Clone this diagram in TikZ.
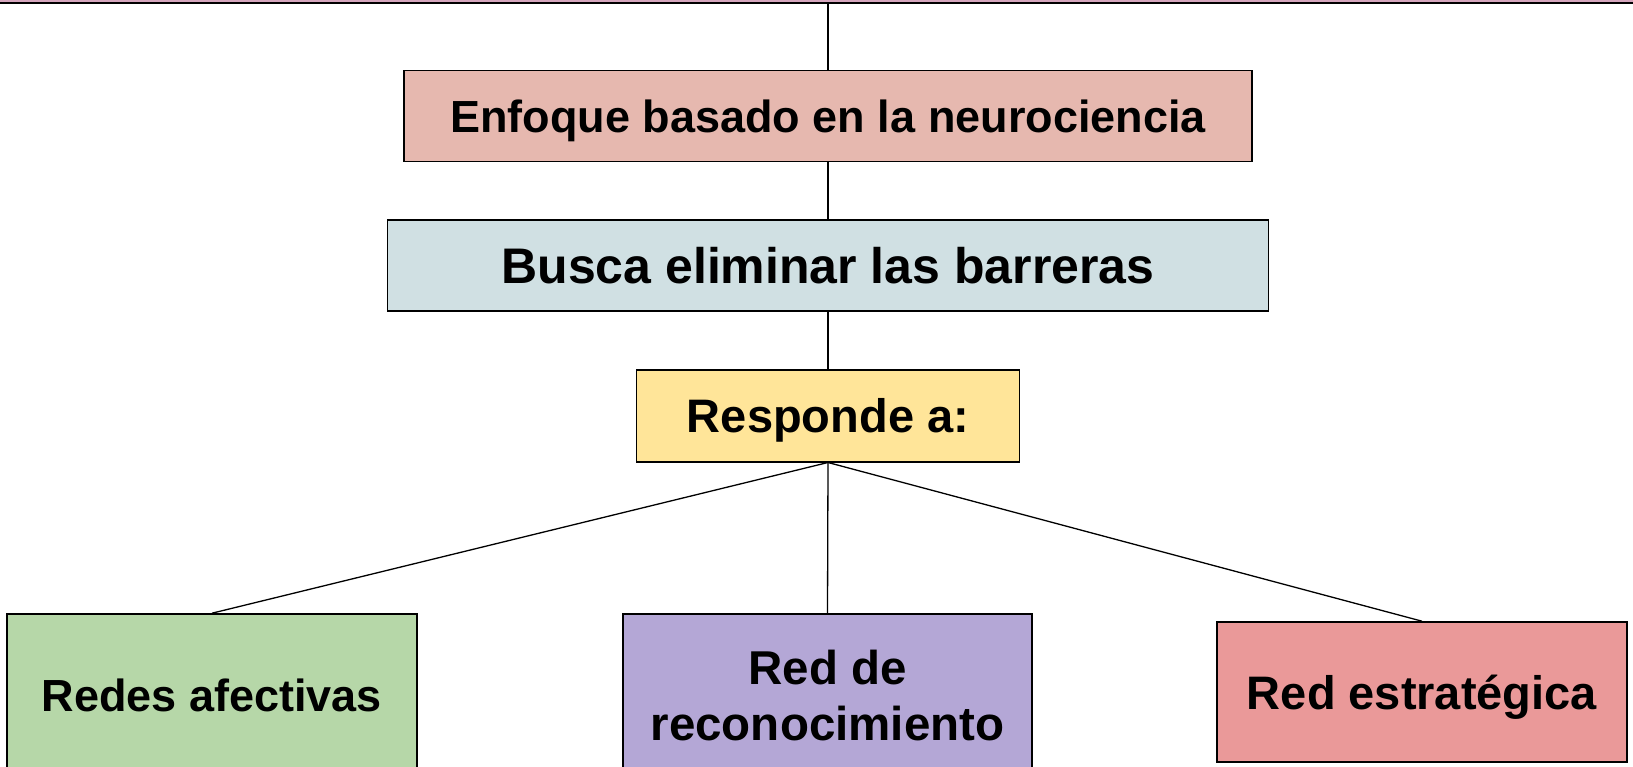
\documentclass[tikz,border=0pt]{standalone}
\usepackage{fontspec}
\setmainfont{Liberation Sans}
\usepackage{tikz}
\usetikzlibrary{positioning}
\definecolor{bandpink}{HTML}{D5A6BD}
\definecolor{enfoquered}{HTML}{E6B8AF}
\definecolor{buscablue}{HTML}{D0E0E3}
\definecolor{respyellow}{HTML}{FFE599}
\definecolor{redesgreen}{HTML}{B6D7A8}
\definecolor{reconpurple}{HTML}{B4A7D6}
\definecolor{estratred}{HTML}{EA9999}
\tikzset{
    box/.style={rectangle, draw, line width=1.6pt, align=center, inner sep=0pt, text depth=0pt},
    txt/.style={font=\bfseries\fontsize{#1}{56}\selectfont},
    link/.style={line width=1.3pt}
}

\begin{document}
\begin{tikzpicture}[x=1pt, y=-1pt, node distance=57pt]
        \useasboundingbox (0,0) rectangle (1633,767);

        % Box cut off at the top
        \node (Band) [box, fill=bandpink, minimum width=1700pt, minimum height=80pt, anchor=south] at (828, 3.6) {};

        % Main chain
        \node (Enfoque) [box, txt=45, fill=enfoquered, minimum width=848pt, minimum height=91pt] at (828, 116) {Enfoque basado en la neurociencia};
        \node (Busca) [box, txt=50, fill=buscablue, minimum width=881pt, minimum height=91pt, below=of Enfoque] {Busca eliminar las barreras};
        \node (Responde) [box, txt=47, fill=respyellow, minimum width=383pt, minimum height=92pt, below=of Busca] {Responde a:};

        % The three networks
        \node (Redes) [box, txt=45, fill=redesgreen, minimum width=410pt, minimum height=162pt] at (212, 695) {Redes afectivas};
        \node (Recon) [box, txt=47.5, fill=reconpurple, minimum width=409pt, minimum height=162pt] at (827.5, 695) {Red de\\reconocimiento};
        \node (Estrat) [box, txt=47, fill=estratred, minimum width=410pt, minimum height=140pt] at (1422, 692) {Red estratégica};

        \draw[link] (Band.south) -- (Enfoque.north);
        \draw[link] (Enfoque.south) -- (Busca.north);
        \draw[link] (Busca.south) -- (Responde.north);
        \draw[link] (Responde.south) -- (Redes.north);
        \draw[link] (Responde.south) -- (Recon.north);
        \draw[link] (Responde.south) -- (Estrat.north);

    \end{tikzpicture}
\end{document}
